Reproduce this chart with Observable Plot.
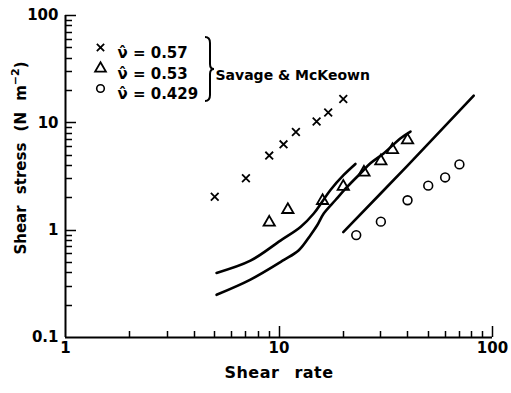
<!DOCTYPE html>
<html>
<head>
<meta charset="utf-8">
<script src="https://cdn.jsdelivr.net/npm/d3@7"></script>
<script src="https://cdn.jsdelivr.net/npm/@observablehq/plot@0.6"></script>
<style>
  body { margin: 0; background: white; }
  #chart { position: relative; width: 511px; height: 393px; }
</style>
</head>
<body>
<div id="chart"></div>
<script>
// Savage & McKeown data, three solids fractions
const crossX = [5, 7, 9, 10.5, 12, 15, 17, 20];
const crossY = [2.05, 3.05, 4.95, 6.3, 8.2, 10.3, 12.5, 16.7];
const triX = [9, 11, 16, 20, 25, 30, 34, 40];
const triY = [1.18, 1.55, 1.88, 2.55, 3.45, 4.4, 5.6, 6.9];
const circX = [23, 30, 40, 50, 60, 70];
const circY = [0.9, 1.2, 1.9, 2.6, 3.1, 4.1];

// theory curves
const curveAX = [5.1, 7.35, 10.16, 12.61, 14.55, 15.93, 17.42, 20.1, 22.8];
const curveAY = [0.40, 0.52, 0.80, 1.07, 1.43, 1.84, 2.37, 3.27, 4.14];
const curveBX = [5.1, 7.35, 10.5, 12.38, 14.04, 15.1, 16.2, 18.4, 20.9, 24.1, 26.8, 31.0, 37.1, 41.3];
const curveBY = [0.25, 0.346, 0.525, 0.65, 0.898, 1.11, 1.43, 1.91, 2.54, 3.39, 4.2, 5.21, 7.19, 8.3];
const curveCX = [20.0, 40.0, 81.7];
const curveCY = [0.96, 4.0, 17.9];

const legendLabels = ["ν̂ = 0.57", "ν̂ = 0.53", "ν̂ = 0.429"];
const legendSymbols = ["times", "triangle", "circle"];
const groupLabel = "Savage & McKeown";

const xMajor = [1, 10, 100];
const xMinor = [2,3,4,5,6,7,8,9,20,30,40,50,60,70,80,90];
const yMajor = [0.1, 1, 10, 100];
const yMinor = [0.2,0.3,0.4,0.5,0.6,0.7,0.8,0.9,2,3,4,5,6,7,8,9,20,30,40,50,60,70,80,90];

const pts = (xs, ys) => xs.map((x, i) => ({x, y: ys[i]}));
const font = "DejaVu Sans";

// inward ticks drawn through Plot's scales
const tickMark = (index, scales, values, dims) => {
  const g = d3.create("svg:g").attr("stroke", "black").attr("stroke-width", 1.5);
  const x0 = dims.marginLeft, y0 = dims.height - dims.marginBottom;
  const addX = (v, len) => { const px = Math.round(scales.x(v)) + 0.5; g.append("line").attr("x1", px).attr("x2", px).attr("y1", y0).attr("y2", y0 - len); };
  const addY = (v, len) => { const py = Math.round(scales.y(v)) + 0.5; g.append("line").attr("x1", x0).attr("x2", x0 + len).attr("y1", py).attr("y2", py); };
  xMinor.forEach(v => addX(v, 6));
  xMajor.slice(1).forEach(v => addX(v, 11));
  yMinor.forEach(v => addY(v, 7));
  yMajor.slice(1).forEach(v => addY(v, 11));
  return g.node();
};

const braceMark = (index, scales, values, dims) => {
  const g = d3.create("svg:g");
  const x0 = dims.marginLeft + 140, yTop = dims.marginTop + 22, yBot = dims.marginTop + 86;
  const ym = (yTop + yBot) / 2;
  const w = 5;
  g.append("path")
    .attr("fill", "none").attr("stroke", "black").attr("stroke-width", 2)
    .attr("d", `M${x0},${yTop} Q${x0 + w},${yTop} ${x0 + w},${yTop + 6} L${x0 + w},${ym - 5} Q${x0 + w},${ym} ${x0 + w + 4},${ym} Q${x0 + w},${ym} ${x0 + w},${ym + 5} L${x0 + w},${yBot - 6} Q${x0 + w},${yBot} ${x0},${yBot}`);
  return g.node();
};

const legendRow = (i, dy, r, sw) => [
  Plot.dot([legendSymbols[i]], {frameAnchor: "top-left", dx: 35, dy, symbol: d => d, r, stroke: "black", strokeWidth: sw}),
  Plot.text([legendLabels[i]], {frameAnchor: "top-left", text: d => d, textAnchor: "start", dx: 52, dy, fontSize: 15, fontWeight: "bold", letterSpacing: 0.5})
];

const chart = Plot.plot({
  width: 511,
  height: 393,
  marginLeft: 65,
  marginRight: 19,
  marginTop: 15,
  marginBottom: 56,
  x: {type: "log", domain: [1, 100]},
  y: {type: "log", domain: [0.1, 100]},
  style: {fontFamily: font, background: "white", color: "black"},
  marks: [
    Plot.axisX({ticks: xMajor, tickSize: 0, tickPadding: 5, tickFormat: d => String(d), fontSize: 15, fontWeight: "bold", label: null}),
    Plot.axisY({ticks: yMajor, tickSize: 0, tickPadding: 7, tickFormat: d => String(d), fontSize: 15, fontWeight: "bold", label: null}),
    Plot.ruleX([1], {strokeWidth: 2}),
    Plot.ruleY([0.1], {strokeWidth: 2}),
    // curves
    Plot.line(pts(curveAX, curveAY), {x: "x", y: "y", strokeWidth: 2.6, curve: "catmull-rom"}),
    Plot.line(pts(curveBX, curveBY), {x: "x", y: "y", strokeWidth: 2.6, curve: "catmull-rom"}),
    Plot.line(pts(curveCX, curveCY), {x: "x", y: "y", strokeWidth: 2.6, curve: "catmull-rom"}),
    // data points
    Plot.dot(pts(crossX, crossY), {x: "x", y: "y", symbol: "times", r: 3.6, stroke: "black", strokeWidth: 1.8}),
    Plot.dot(pts(triX, triY), {x: "x", y: "y", symbol: "triangle", r: 4.2, stroke: "black", strokeWidth: 1.8}),
    Plot.dot(pts(circX, circY), {x: "x", y: "y", symbol: "circle", r: 4.4, stroke: "black", strokeWidth: 1.6}),
    // legend
    ...legendRow(0, 32, 3.4, 1.8),
    ...legendRow(1, 53, 4, 1.8),
    ...legendRow(2, 73, 3.8, 1.6),
    braceMark,
    Plot.text([groupLabel], {frameAnchor: "top-left", text: d => d, textAnchor: "start", dx: 150, dy: 55, fontSize: 14, fontWeight: "bold", letterSpacing: 1.2}),
    // x axis label
    Plot.text(["Shear rate"], {frameAnchor: "bottom", text: d => d, dy: 40, fontSize: 16, fontWeight: "bold", fill: "black"}),
    tickMark,
  ]
});

const svg = d3.select(chart);
svg.style("overflow", "visible");
// y axis label with superscript
const yl = svg.append("text")
  .attr("transform", "translate(21,158) rotate(-90)")
  .attr("text-anchor", "middle")
  .attr("dominant-baseline", "central")
  .attr("font-family", font)
  .attr("font-size", 15)
  .attr("font-weight", "bold")
  .attr("word-spacing", 6)
  .attr("fill", "black");
yl.append("tspan").text("Shear stress (N m");
yl.append("tspan").attr("dy", -6).attr("font-size", 11).text("−2");
yl.append("tspan").attr("dy", 6).text(")");
svg.selectAll("text").filter(function() { return this.textContent === "Shear rate"; }).attr("word-spacing", 9).attr("letter-spacing", 0.5);

document.getElementById("chart").appendChild(chart);
</script>
</body>
</html>
